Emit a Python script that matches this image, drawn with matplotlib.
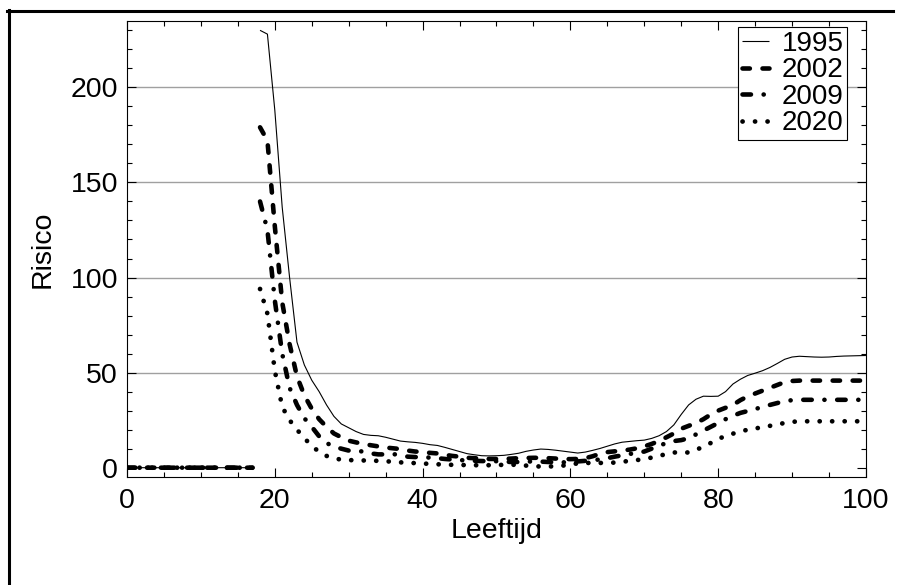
import numpy as np
import matplotlib
matplotlib.use('Agg')
import matplotlib.pyplot as plt
import matplotlib.lines as lines

plt.rcParams['font.family'] = ['Liberation Sans', 'DejaVu Sans']
plt.rcParams['lines.scale_dashes'] = False

# ages 0-17: risk is zero for all years
ages_young = list(range(0, 18))
risk_young = [0, 0, 0, 0, 0, 0, 0, 0, 0, 0, 0, 0, 0, 0, 0, 0, 0, 0]

# ages 18-100
ages = list(range(18, 101))
risk_1995 = [230, 228, 188, 137, 100, 66, 54, 46, 40, 33, 27, 23, 21, 19, 17.5, 17, 16.8,
             16, 15, 14, 13.6, 13.3, 12.8, 12.1, 11.7, 10.7, 9.6, 8.5, 7.4, 6.8, 6.3, 6.2,
             6.3, 6.5, 7, 7.6, 8.6, 9.3, 9.8, 9.6, 9.2, 8.7, 8.2, 7.7, 8.2, 9.1, 10.1, 11.3,
             12.5, 13.4, 13.8, 14.2, 14.5, 15.4, 16.8, 19, 22.5, 28, 33, 36, 37.6, 37.5,
             37.6, 40, 44, 46.5, 48.5, 49.7, 51, 52.7, 54.8, 57, 58.2, 58.6, 58.4, 58.2,
             58.1, 58.2, 58.5, 58.7, 58.8, 58.9, 59]
risk_2002 = [179, 172, 127, 87, 65, 48, 38, 31, 25.5, 21.5, 18, 16, 14.2, 13.3, 12.5, 11.8,
             11.2, 10.6, 10.2, 9.8, 9, 8.5, 8.2, 7.8, 7.5, 6.8, 6.2, 5.8, 5.2, 5, 4.8, 4.6,
             4.6, 4.6, 4.8, 5, 5.1, 5.2, 5.2, 5, 4.8, 4.6, 4.5, 4.6, 5, 6, 7.3, 8.2, 8.6, 9,
             9.5, 10.2, 11.2, 12.5, 14, 16, 18, 20.5, 22, 23.5, 25.5, 28, 30, 31.5, 33, 35.5,
             37.5, 39, 40.5, 42, 43.5, 45, 45.6, 45.8, 45.8, 45.8, 45.8, 45.8, 45.8, 45.8,
             45.8, 45.8, 45.8]
risk_2009 = [140, 125, 88, 60, 42, 33, 26, 21.5, 16.5, 13, 11, 10, 9, 8.8, 8.5, 7.5, 7, 7,
             7.2, 6.5, 5.8, 5.6, 5.5, 5.3, 5, 4.6, 4.3, 4, 3.8, 3.6, 3.5, 3.4, 3.4, 3.2, 3, 3,
             3.2, 3.3, 3.2, 3, 2.8, 2.8, 3, 3.3, 3.6, 4, 4.3, 5, 5.8, 6.5, 7.2, 7.8, 8.5, 10,
             11.5, 13, 14, 14.5, 15.5, 17.5, 19.5, 21.5, 23.5, 25.5, 27.3, 28.8, 29.8, 30.8,
             32, 33, 34, 35, 35.5, 35.7, 35.7, 35.7, 35.7, 35.7, 35.7, 35.7, 35.7, 35.7, 35.7]
risk_2020 = [94, 81, 51, 32, 25, 20, 15.5, 11.5, 8.3, 6.2, 5, 4.2, 4, 3.9, 3.8, 3.7, 3.6,
             3.4, 3.1, 2.8, 2.6, 2.4, 2.2, 2, 1.8, 1.6, 1.5, 1.4, 1.4, 1.3, 1.3, 1.3, 1.4,
             1.5, 1.6, 1.4, 1.1, 0.8, 0.6, 0.6, 0.8, 1.1, 1.6, 2.3, 2.5, 2.5, 2.5, 2.5, 2.7,
             3.1, 3.6, 4, 4.6, 5.3, 6.2, 7.2, 8, 8, 8, 9.4, 11, 13, 15, 16.8, 17.9, 19, 20,
             20.6, 21.3, 22, 22.8, 23.5, 24.1, 24.4, 24.4, 24.4, 24.4, 24.4, 24.4, 24.4,
             24.4, 24.4, 24.4]

years = ['1995', '2002', '2009', '2020']
series = [risk_1995, risk_2002, risk_2009, risk_2020]
styles = [dict(lw=0.8, ls='-'),
          dict(lw=3.3, dashes=(5.3, 9.1)),
          dict(lw=3.3, dashes=(6.1, 9.1, 0.1, 9.1)),
          dict(lw=3.4, dashes=(0.1, 8.9))]

fig = plt.figure(figsize=(9.06, 5.85), dpi=100)
ax = fig.add_axes([0.1402, 0.1846, 0.8156, 0.7795])

for v in [50, 100, 150, 200]:
    ax.axhline(v, color='#a0a0a0', lw=1.0, zorder=0)

for yr, vals, st in zip(years, series, styles):
    x = ages_young + [np.nan] + ages
    y = risk_young + [np.nan] + vals
    ax.plot(x, y, color='k', label=yr, dash_capstyle='round',
            solid_capstyle='butt', **st)

ax.set_xlim(0, 100)
ax.set_ylim(-4.9, 234.9)
ax.set_xticks([0, 20, 40, 60, 80, 100])
ax.set_xticks(np.arange(0, 101, 5), minor=True)
ax.set_yticks([0, 50, 100, 150, 200])
ax.set_yticks(np.arange(0, 231, 10), minor=True)
ax.tick_params(which='both', direction='in', top=True, right=True, width=0.8,
               labelsize=20.5)
ax.tick_params(which='major', length=6.5)
ax.tick_params(which='minor', length=3.6)
ax.tick_params(axis='x', pad=8)
ax.tick_params(axis='y', pad=6.5)
for s in ax.spines.values():
    s.set_linewidth(0.8)

ax.set_xlabel('Leeftijd', fontsize=20.5, labelpad=3)
ax.set_ylabel('Risico', fontsize=20.5, labelpad=11)

leg = ax.legend(loc='upper right', fontsize=20, labelspacing=0.02,
                handlelength=1.0, handletextpad=0.45, borderpad=0.12,
                borderaxespad=0.0, bbox_to_anchor=(0.9745, 0.986),
                fancybox=False, edgecolor='k', framealpha=1)
leg.get_frame().set_linewidth(0.8)

# outer frame lines (top and left)
fig.add_artist(lines.Line2D([7 / 906, 893 / 906], [1 - 11 / 585, 1 - 11 / 585],
                            color='k', lw=2.2, transform=fig.transFigure))
fig.add_artist(lines.Line2D([9 / 906, 9 / 906], [0, 1 - 10 / 585],
                            color='k', lw=2.2, transform=fig.transFigure))

plt.savefig('out.png', dpi=100)
plt.close()
